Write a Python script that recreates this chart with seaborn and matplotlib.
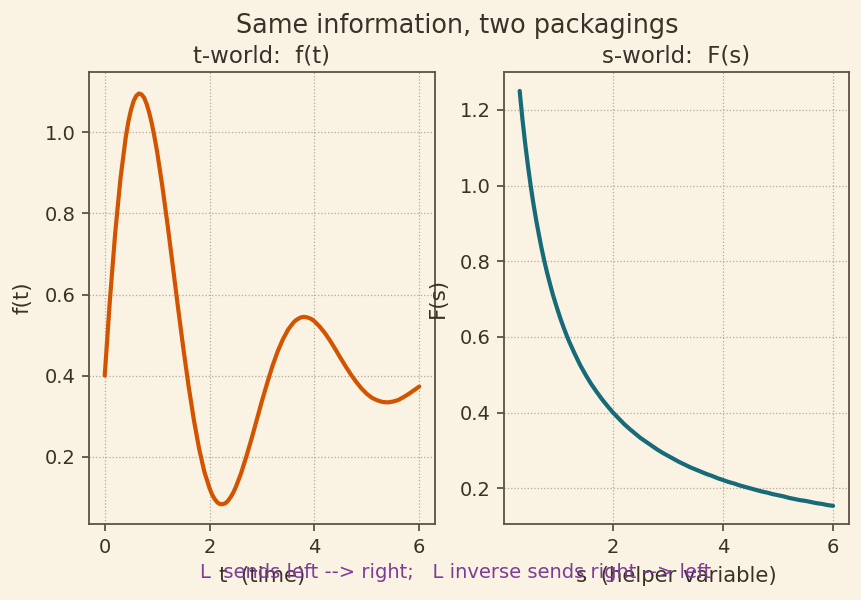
import numpy as np
import pandas as pd
import matplotlib
matplotlib.use("Agg")
import matplotlib.pyplot as plt
import seaborn as sns

# ---- data ----
t_vals = [0.0, 0.1, 0.2, 0.3, 0.4, 0.45, 0.5, 0.55, 0.6, 0.65, 0.7, 0.75, 0.8, 0.85, 0.9, 0.95,
          1.0, 1.1, 1.2, 1.3, 1.4, 1.5, 1.6, 1.7, 1.8, 1.9,
          2.0, 2.05, 2.1, 2.15, 2.2, 2.25, 2.3, 2.35, 2.4, 2.45, 2.5, 2.6, 2.7, 2.8, 2.9,
          3.0, 3.1, 3.2, 3.3, 3.4, 3.5, 3.6, 3.65, 3.7, 3.75, 3.8, 3.85, 3.9, 3.95,
          4.0, 4.1, 4.2, 4.3, 4.4, 4.5, 4.6, 4.7, 4.8, 4.9,
          5.0, 5.1, 5.2, 5.3, 5.4, 5.5, 5.6, 5.7, 5.8, 5.9, 6.0]
f_vals = [0.400, 0.589, 0.752, 0.886, 0.987, 1.026, 1.055, 1.077, 1.090, 1.096, 1.094, 1.086, 1.070, 1.048, 1.021, 0.988,
          0.952, 0.866, 0.771, 0.669, 0.566, 0.467, 0.374, 0.291, 0.220, 0.163,
          0.122, 0.106, 0.095, 0.087, 0.083, 0.083, 0.085, 0.091, 0.100, 0.111, 0.125, 0.159, 0.200, 0.244, 0.291,
          0.338, 0.382, 0.424, 0.460, 0.490, 0.514, 0.531, 0.537, 0.541, 0.544, 0.545, 0.544, 0.542, 0.539,
          0.534, 0.521, 0.505, 0.486, 0.465, 0.443, 0.422, 0.402, 0.384, 0.368,
          0.355, 0.345, 0.339, 0.335, 0.334, 0.336, 0.340, 0.347, 0.355, 0.364, 0.373]

s_vals = [0.30, 0.35, 0.40, 0.45, 0.50, 0.55, 0.60, 0.65, 0.70, 0.75, 0.80, 0.85, 0.90, 0.95,
          1.0, 1.05, 1.1, 1.15, 1.2, 1.3, 1.4, 1.5, 1.6, 1.7, 1.8, 1.9,
          2.0, 2.1, 2.2, 2.3, 2.4, 2.5, 2.6, 2.7, 2.8, 2.9,
          3.0, 3.1, 3.2, 3.3, 3.4, 3.5, 3.6, 3.7, 3.8, 3.9,
          4.0, 4.1, 4.2, 4.3, 4.4, 4.5, 4.6, 4.7, 4.8, 4.9,
          5.0, 5.1, 5.2, 5.3, 5.4, 5.5, 5.6, 5.7, 5.8, 5.9, 6.0]
F_vals = [1.250, 1.176, 1.111, 1.053, 1.000, 0.952, 0.909, 0.870, 0.833, 0.800, 0.769, 0.741, 0.714, 0.690,
          0.667, 0.645, 0.625, 0.606, 0.588, 0.556, 0.526, 0.500, 0.476, 0.455, 0.435, 0.417,
          0.400, 0.385, 0.370, 0.357, 0.345, 0.333, 0.323, 0.313, 0.303, 0.294,
          0.286, 0.278, 0.270, 0.263, 0.256, 0.250, 0.244, 0.238, 0.233, 0.227,
          0.222, 0.217, 0.213, 0.208, 0.204, 0.200, 0.196, 0.192, 0.189, 0.185,
          0.182, 0.179, 0.175, 0.172, 0.169, 0.167, 0.164, 0.161, 0.159, 0.156, 0.154]

suptitle = "Same information, two packagings"
left_title = "t-world:  f(t)"
right_title = "s-world:  F(s)"
left_xlabel, left_ylabel = "t  (time)", "f(t)"
right_xlabel, right_ylabel = "s  (helper variable)", "F(s)"
footer = "L  sends left --> right;   L inverse sends right --> left"

# ---- style ----
BG = "#faf3e3"
INK = "#3b3128"
SPINE = "#5c5242"
sns.set_theme(style="ticks", rc={
    "figure.facecolor": BG,
    "axes.facecolor": BG,
    "savefig.facecolor": BG,
    "axes.edgecolor": SPINE,
    "axes.linewidth": 1.3,
    "axes.labelcolor": INK,
    "text.color": INK,
    "xtick.color": SPINE,
    "ytick.color": SPINE,
    "xtick.labelcolor": INK,
    "ytick.labelcolor": INK,
    "xtick.major.size": 4.8,
    "ytick.major.size": 4.8,
    "xtick.major.width": 1.3,
    "ytick.major.width": 1.3,
    "xtick.major.pad": 5,
    "ytick.major.pad": 5,
    "axes.grid": True,
    "grid.color": "#b3aa98",
    "grid.linestyle": ":",
    "grid.linewidth": 0.9,
    "lines.solid_joinstyle": "round",
})
plt.rcParams["font.family"] = ["DejaVu Sans"]

fig = plt.figure(figsize=(8.62, 6.0), dpi=100)
ax1 = fig.add_axes([89/862, 1-524/600, (435-89)/862, (524-72)/600])
ax2 = fig.add_axes([504/862, 1-524/600, (849-504)/862, (524-72)/600])

df_t = pd.DataFrame({"t": t_vals, "f": f_vals})
df_s = pd.DataFrame({"s": s_vals, "F": F_vals})

sns.lineplot(data=df_t, x="t", y="f", ax=ax1, color="#d35400", linewidth=3.0, sort=False)
sns.lineplot(data=df_s, x="s", y="F", ax=ax2, color="#176b78", linewidth=3.0, sort=False)

ax1.set_xlim(-0.3, 6.3)
ax1.set_ylim(0.034, 1.149)
ax1.set_xticks([0, 2, 4, 6])
ax1.set_yticks([0.2, 0.4, 0.6, 0.8, 1.0])
ax2.set_xlim(0.015, 6.29)
ax2.set_ylim(0.106, 1.3)
ax2.set_xticks([2, 4, 6])
ax2.set_yticks([0.2, 0.4, 0.6, 0.8, 1.0, 1.2])

for ax, ti, xl, yl in [(ax1, left_title, left_xlabel, left_ylabel),
                       (ax2, right_title, right_xlabel, right_ylabel)]:
    ax.set_title(ti, fontsize=16.5, color=INK, pad=7)
    ax.set_xlabel(xl, fontsize=15.3, color=INK, labelpad=6.5)
    ax.set_ylabel(yl, fontsize=15.3, color=INK, labelpad=8.5)
    ax.tick_params(labelsize=14)
    for sp in ax.spines.values():
        sp.set_visible(True)
        sp.set_color(SPINE)

fig.suptitle(suptitle, x=0.53, y=0.978, fontsize=18.4, color=INK)
fig.text(0.529, 0.046, footer, ha="center", va="center", fontsize=14, color="#7d3c98")

fig.savefig("out.png", dpi=100)
